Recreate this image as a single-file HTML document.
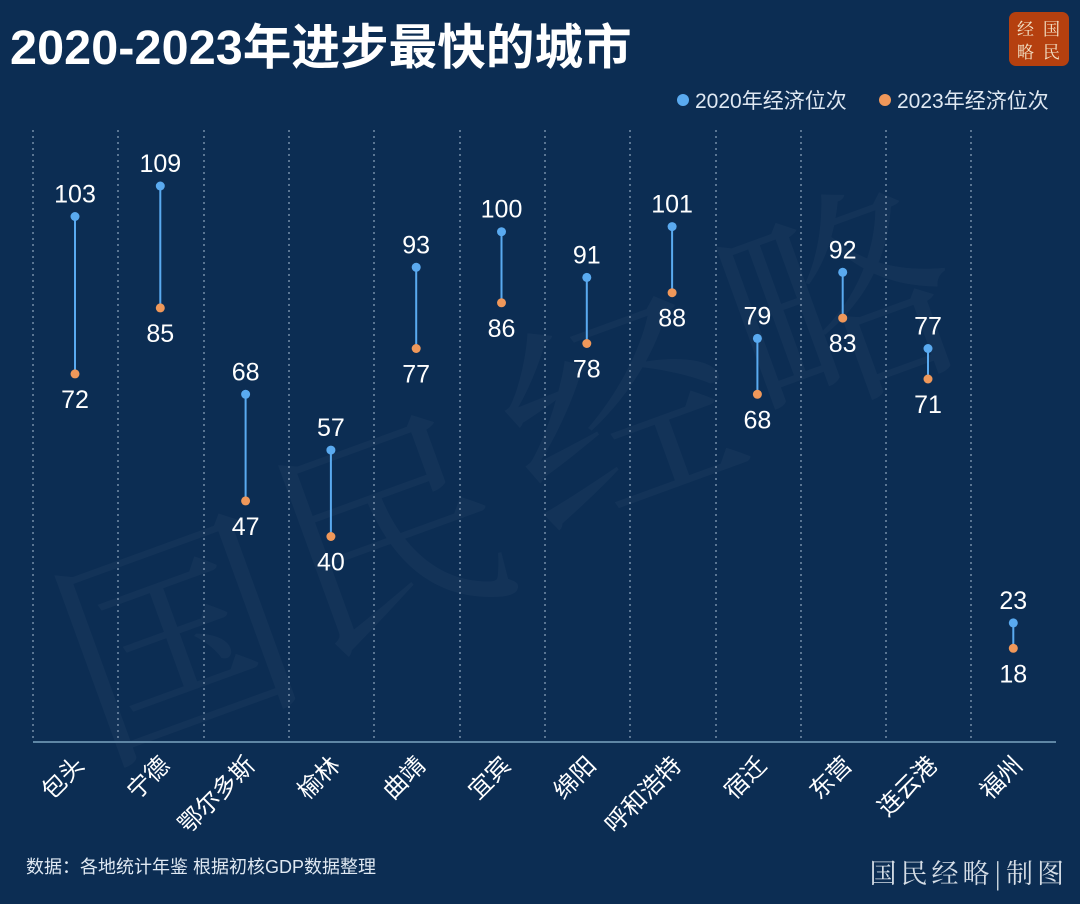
<!DOCTYPE html>
<html><head><meta charset="utf-8"><style>
body{margin:0;background:#0c2d53;}
svg{display:block;font-family:"Liberation Sans","Noto Sans CJK SC",sans-serif;}
</style></head><body>
<svg width="1080" height="904" viewBox="0 0 1080 904" xmlns="http://www.w3.org/2000/svg">
<rect width="1080" height="904" fill="#0c2d53"/>
<g fill="#ffffff" opacity="0.035" font-family="'Noto Serif CJK SC',serif" font-size="230">
<text x="60" y="730" transform="rotate(-20 160 640)">国</text>
<text x="270" y="620" transform="rotate(-20 380 520)">民</text>
<text x="500" y="500" transform="rotate(-20 610 400)">经</text>
<text x="720" y="390" transform="rotate(-20 830 290)">略</text>
</g>
<text x="10" y="64" font-size="48.5" font-weight="bold" fill="#ffffff" letter-spacing="0.1">2020-2023年进步最快的城市</text>
<rect x="1009" y="12" width="60" height="54" rx="7" fill="#b5400f"/>
<g font-family="'Noto Serif CJK SC',serif" font-size="17" fill="#f3e3c8">
<text x="1017" y="35">经</text><text x="1043" y="35">国</text>
<text x="1017" y="58">略</text><text x="1043" y="58">民</text>
</g>
<circle cx="683" cy="100" r="6" fill="#5aaaf0"/>
<text x="695" y="108" font-size="21" fill="#dfe8f2">2020年经济位次</text>
<circle cx="885" cy="100" r="6" fill="#f0985a"/>
<text x="897" y="108" font-size="21" fill="#dfe8f2">2023年经济位次</text>
<g stroke="#8fa5bd" stroke-width="1.2" stroke-dasharray="2,4">
<line x1="33" y1="130" x2="33" y2="742"/><line x1="118" y1="130" x2="118" y2="742"/>
<line x1="204" y1="130" x2="204" y2="742"/><line x1="289" y1="130" x2="289" y2="742"/>
<line x1="374" y1="130" x2="374" y2="742"/><line x1="460" y1="130" x2="460" y2="742"/>
<line x1="545" y1="130" x2="545" y2="742"/><line x1="630" y1="130" x2="630" y2="742"/>
<line x1="716" y1="130" x2="716" y2="742"/><line x1="801" y1="130" x2="801" y2="742"/>
<line x1="886" y1="130" x2="886" y2="742"/><line x1="971" y1="130" x2="971" y2="742"/>
</g>
<line x1="33" y1="742" x2="1056" y2="742" stroke="#5f86a5" stroke-width="2"/>
<g stroke="#5aaaf0" stroke-width="2">
<line x1="75" y1="216.5" x2="75" y2="373.9"/>
<line x1="160.3" y1="186" x2="160.3" y2="307.9"/>
<line x1="245.6" y1="394.3" x2="245.6" y2="500.9"/>
<line x1="330.9" y1="450.1" x2="330.9" y2="536.5"/>
<line x1="416.2" y1="267.3" x2="416.2" y2="348.5"/>
<line x1="501.5" y1="231.7" x2="501.5" y2="302.8"/>
<line x1="586.8" y1="277.4" x2="586.8" y2="343.5"/>
<line x1="672.1" y1="226.6" x2="672.1" y2="292.7"/>
<line x1="757.4" y1="338.4" x2="757.4" y2="394.3"/>
<line x1="842.7" y1="272.3" x2="842.7" y2="318.1"/>
<line x1="928" y1="348.5" x2="928" y2="379"/>
<line x1="1013.3" y1="622.9" x2="1013.3" y2="648.3"/>
</g>
<g fill="#5aaaf0">
<circle cx="75" cy="216.5" r="4.5"/><circle cx="160.3" cy="186" r="4.5"/><circle cx="245.6" cy="394.3" r="4.5"/>
<circle cx="330.9" cy="450.1" r="4.5"/><circle cx="416.2" cy="267.3" r="4.5"/><circle cx="501.5" cy="231.7" r="4.5"/>
<circle cx="586.8" cy="277.4" r="4.5"/><circle cx="672.1" cy="226.6" r="4.5"/><circle cx="757.4" cy="338.4" r="4.5"/>
<circle cx="842.7" cy="272.3" r="4.5"/><circle cx="928" cy="348.5" r="4.5"/><circle cx="1013.3" cy="622.9" r="4.5"/>
</g>
<g fill="#f0985a">
<circle cx="75" cy="373.9" r="4.5"/><circle cx="160.3" cy="307.9" r="4.5"/><circle cx="245.6" cy="500.9" r="4.5"/>
<circle cx="330.9" cy="536.5" r="4.5"/><circle cx="416.2" cy="348.5" r="4.5"/><circle cx="501.5" cy="302.8" r="4.5"/>
<circle cx="586.8" cy="343.5" r="4.5"/><circle cx="672.1" cy="292.7" r="4.5"/><circle cx="757.4" cy="394.3" r="4.5"/>
<circle cx="842.7" cy="318.1" r="4.5"/><circle cx="928" cy="379" r="4.5"/><circle cx="1013.3" cy="648.3" r="4.5"/>
</g>
<g font-size="25" fill="#ffffff" text-anchor="middle">
<text x="75" y="202.5">103</text><text x="75" y="407.9">72</text>
<text x="160.3" y="172">109</text><text x="160.3" y="341.9">85</text>
<text x="245.6" y="380.3">68</text><text x="245.6" y="534.9">47</text>
<text x="330.9" y="436.1">57</text><text x="330.9" y="570.5">40</text>
<text x="416.2" y="253.3">93</text><text x="416.2" y="382.5">77</text>
<text x="501.5" y="217.7">100</text><text x="501.5" y="336.8">86</text>
<text x="586.8" y="263.4">91</text><text x="586.8" y="377.5">78</text>
<text x="672.1" y="212.6">101</text><text x="672.1" y="326.7">88</text>
<text x="757.4" y="324.4">79</text><text x="757.4" y="428.3">68</text>
<text x="842.7" y="258.3">92</text><text x="842.7" y="352.1">83</text>
<text x="928" y="334.5">77</text><text x="928" y="413">71</text>
<text x="1013.3" y="608.9">23</text><text x="1013.3" y="682.3">18</text>
</g>
<g font-size="24" fill="#ffffff" text-anchor="end">
<text x="80" y="769" transform="rotate(-45 80 761)">包头</text>
<text x="165.3" y="769" transform="rotate(-45 165.3 761)">宁德</text>
<text x="250.6" y="769" transform="rotate(-45 250.6 761)">鄂尔多斯</text>
<text x="335.9" y="769" transform="rotate(-45 335.9 761)">榆林</text>
<text x="421.2" y="769" transform="rotate(-45 421.2 761)">曲靖</text>
<text x="506.5" y="769" transform="rotate(-45 506.5 761)">宜宾</text>
<text x="591.8" y="769" transform="rotate(-45 591.8 761)">绵阳</text>
<text x="677.1" y="769" transform="rotate(-45 677.1 761)">呼和浩特</text>
<text x="762.4" y="769" transform="rotate(-45 762.4 761)">宿迁</text>
<text x="847.7" y="769" transform="rotate(-45 847.7 761)">东营</text>
<text x="933" y="769" transform="rotate(-45 933 761)">连云港</text>
<text x="1018.3" y="769" transform="rotate(-45 1018.3 761)">福州</text>
</g>
<text x="26" y="873" font-size="18" fill="#dfe8f2">数据：各地统计年鉴 根据初核GDP数据整理</text>
<text x="1068" y="883" font-size="27" fill="#d5dde6" text-anchor="end" font-family="'Noto Serif CJK SC',serif" letter-spacing="4">国民经略|制图</text>
</svg>
</body></html>
